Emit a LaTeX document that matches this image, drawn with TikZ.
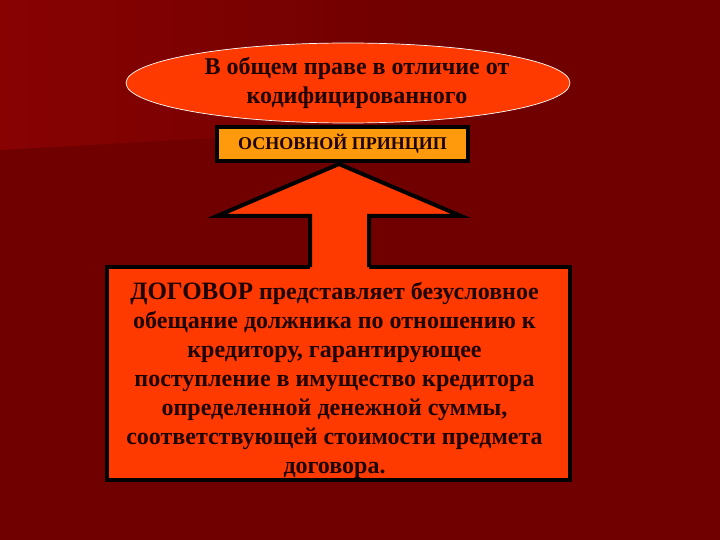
\documentclass[tikz,border=0pt]{standalone}
\usepackage{fontspec}
\setmainfont{Liberation Serif}
\usetikzlibrary{shapes.geometric, calc}

\definecolor{bgdark}{RGB}{112,0,0}
\definecolor{bglight}{RGB}{136,2,2}
\definecolor{redfill}{RGB}{255,58,0}
\definecolor{orangefill}{RGB}{255,154,12}
\definecolor{inkdark}{RGB}{30,0,0}

\tikzset{
  rulebox/.style={ellipse, draw=white, line width=0.7pt, fill=redfill, inner sep=0pt,
    minimum width=444pt, minimum height=80pt},
  headbox/.style={draw=black, line width=4.5pt, fill=orangefill, inner sep=0pt,
    minimum width=251pt, minimum height=34pt},
  mainbox/.style={draw=black, line width=4.5pt, fill=redfill, inner sep=0pt, outer sep=0pt,
    minimum width=463pt, minimum height=213pt},
}

\begin{document}
\begin{tikzpicture}[x=1pt, y=-1pt, text=inkdark]
  \useasboundingbox (0,0) rectangle (720,540);
  % background
  \fill[bgdark] (0,0) rectangle (720,540);
  \shade[left color=bglight, right color=bgdark] (0,0) -- (430,0) -- (430,126) -- (0,150) -- cycle;

  \node[rulebox] (rule) at (348,83) {};
  \node[align=center, font=\fontsize{24}{28.5}\selectfont\bfseries] (ruletext) at ($(rule.center)+(9,0)$)
    {В общем праве в отличие от\\кодифицированного};
  \node[headbox, font=\fontsize{18}{20}\selectfont\bfseries] (principle) at (342.5,144) {ОСНОВНОЙ ПРИНЦИП};
  \node[mainbox] (contract) at (338.5,373.5) {};

  % arrow
  \coordinate (tip) at (339,164);
  \coordinate (hl) at ($(tip)+(-122,52)$);
  \coordinate (hr) at ($(tip)+(122,52)$);
  \coordinate (sl) at ($(tip)+(-29,52)$);
  \coordinate (sr) at ($(tip)+(30,52)$);
  \coordinate (bl) at ($(sl)+(0,51)$);
  \coordinate (br) at ($(sr)+(0,51)$);
  \fill[redfill] ($(bl)+(0,4)$) -- (sl) -- (hl) -- (tip) -- (hr) -- (sr) -- ($(br)+(0,4)$) -- cycle;
  \draw[black, line width=4pt, line join=miter] (bl) -- (sl) -- (hl) -- (tip) -- (hr) -- (sr) -- (br);

  \node[align=center, font=\fontsize{24}{29}\selectfont\bfseries] (contracttext) at ($(contract.center)+(-4,7)$)
    {{\fontsize{25}{29}\selectfont ДОГОВОР} представляет безусловное\\
     обещание должника по отношению к\\
     кредитору, гарантирующее\\
     поступление в имущество кредитора\\
     определенной денежной суммы,\\
     соответствующей стоимости предмета\\
     договора.};
\end{tikzpicture}
\end{document}
